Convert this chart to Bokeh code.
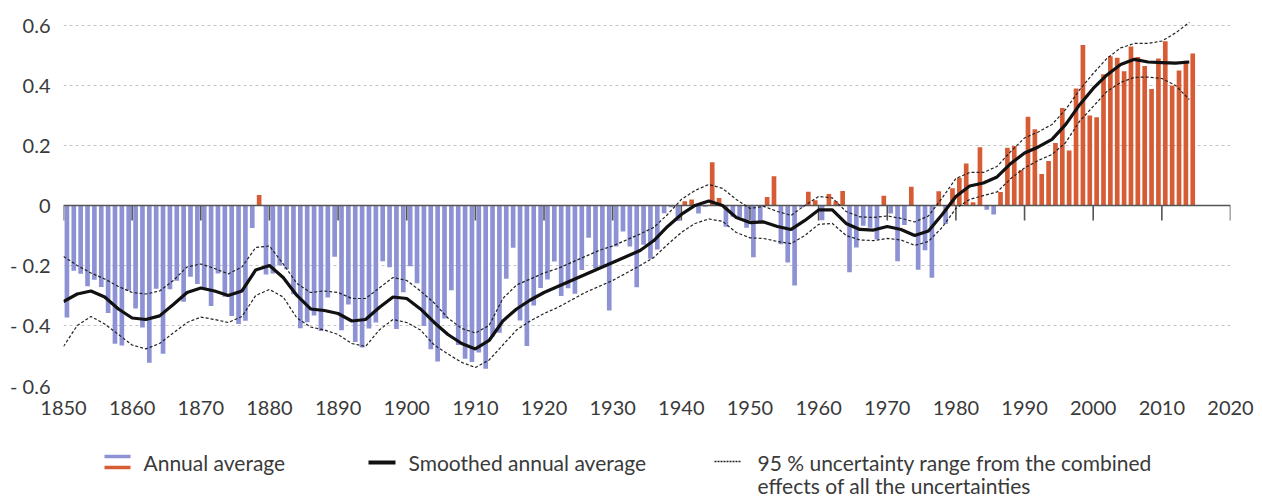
from bokeh.plotting import figure
from bokeh.models import Range1d, FixedTicker, ColumnDataSource
from bokeh.layouts import column
from bokeh.embed import file_html
from bokeh.resources import INLINE
from bokeh.core.properties import value

# Global average near-surface temperature anomaly (deg C), 1850-2014
years = list(range(1850, 2015))
anomaly = [
    -0.373, -0.218, -0.228, -0.269, -0.248, -0.272, -0.358, -0.461, -0.467, -0.284,
    -0.343, -0.407, -0.524, -0.278, -0.494, -0.279, -0.251, -0.321, -0.238, -0.262,
    -0.276, -0.335, -0.227, -0.304, -0.368, -0.395, -0.384, -0.075, 0.035, -0.230,
    -0.227, -0.200, -0.213, -0.296, -0.409, -0.389, -0.367, -0.418, -0.307, -0.171,
    -0.416, -0.330, -0.455, -0.473, -0.410, -0.390, -0.186, -0.206, -0.412, -0.289,
    -0.203, -0.259, -0.402, -0.479, -0.520, -0.377, -0.283, -0.465, -0.511, -0.522,
    -0.490, -0.544, -0.437, -0.424, -0.244, -0.141, -0.383, -0.468, -0.333, -0.275,
    -0.247, -0.187, -0.302, -0.276, -0.294, -0.215, -0.108, -0.210, -0.206, -0.350,
    -0.137, -0.087, -0.137, -0.273, -0.131, -0.178, -0.147, -0.026, -0.006, -0.052,
    0.014, 0.020, -0.027, -0.004, 0.144, 0.025, -0.071, -0.038, -0.039, -0.074,
    -0.173, -0.052, 0.028, 0.097, -0.129, -0.190, -0.267, -0.007, 0.046, 0.017,
    -0.049, 0.038, 0.014, 0.048, -0.223, -0.140, -0.068, -0.074, -0.113, 0.032,
    -0.027, -0.186, -0.065, 0.062, -0.214, -0.149, -0.241, 0.047, -0.062, 0.057,
    0.092, 0.140, 0.011, 0.194, -0.014, -0.030, 0.045, 0.192, 0.198, 0.118,
    0.296, 0.254, 0.105, 0.148, 0.208, 0.325, 0.183, 0.390, 0.535, 0.300,
    0.294, 0.437, 0.497, 0.492, 0.447, 0.530, 0.495, 0.465, 0.388, 0.490,
    0.547, 0.400, 0.450, 0.482, 0.506,
]

# Smoothed series and its 95 % uncertainty envelope, every second year
smooth_years = list(range(1850, 2015, 2))
smooth = [
    -0.320, -0.295, -0.285, -0.305, -0.345, -0.375, -0.380, -0.368, -0.330, -0.290,
    -0.275, -0.285, -0.300, -0.285, -0.215, -0.200, -0.240, -0.300, -0.345, -0.350,
    -0.360, -0.385, -0.380, -0.340, -0.305, -0.310, -0.345, -0.390, -0.430, -0.460,
    -0.478, -0.450, -0.385, -0.345, -0.315, -0.290, -0.270, -0.250, -0.230, -0.210,
    -0.190, -0.170, -0.150, -0.117, -0.070, -0.030, 0.000, 0.015, 0.000, -0.040,
    -0.057, -0.055, -0.070, -0.080, -0.050, -0.015, -0.015, -0.060, -0.080, -0.082,
    -0.070, -0.080, -0.100, -0.085, -0.030, 0.030, 0.065, 0.075, 0.095, 0.140,
    0.175, 0.195, 0.220, 0.270, 0.335, 0.390, 0.435, 0.470, 0.487, 0.478,
    0.476, 0.474, 0.478,
]
upper = [
    -0.170, -0.200, -0.225, -0.245, -0.270, -0.290, -0.295, -0.285, -0.250, -0.205,
    -0.195, -0.210, -0.228, -0.205, -0.140, -0.135, -0.195, -0.260, -0.290, -0.285,
    -0.290, -0.310, -0.310, -0.275, -0.240, -0.250, -0.285, -0.325, -0.375, -0.410,
    -0.425, -0.400, -0.310, -0.265, -0.245, -0.225, -0.210, -0.190, -0.170, -0.150,
    -0.135, -0.115, -0.095, -0.073, -0.030, 0.020, 0.050, 0.070, 0.057, 0.020,
    -0.010, -0.003, -0.020, -0.033, 0.000, 0.030, 0.025, -0.020, -0.038, -0.040,
    -0.035, -0.043, -0.055, -0.035, 0.025, 0.090, 0.110, 0.110, 0.130, 0.180,
    0.225, 0.245, 0.270, 0.320, 0.385, 0.440, 0.490, 0.525, 0.540, 0.540,
    0.548, 0.575, 0.610,
]
lower = [
    -0.470, -0.400, -0.370, -0.395, -0.430, -0.465, -0.478, -0.460, -0.425, -0.390,
    -0.372, -0.380, -0.390, -0.370, -0.300, -0.280, -0.305, -0.375, -0.405, -0.415,
    -0.430, -0.460, -0.470, -0.415, -0.380, -0.390, -0.415, -0.465, -0.495, -0.523,
    -0.540, -0.515, -0.465, -0.415, -0.385, -0.360, -0.340, -0.315, -0.290, -0.270,
    -0.250, -0.225, -0.200, -0.173, -0.130, -0.090, -0.060, -0.045, -0.053, -0.090,
    -0.108, -0.110, -0.120, -0.127, -0.100, -0.063, -0.060, -0.100, -0.115, -0.117,
    -0.110, -0.115, -0.133, -0.120, -0.073, -0.010, 0.020, 0.033, 0.045, 0.090,
    0.125, 0.150, 0.170, 0.210, 0.280, 0.330, 0.380, 0.410, 0.427, 0.428,
    0.423, 0.400, 0.353,
]

tick_years = list(range(1850, 2021, 10))
y_ticks = [-0.6, -0.4, -0.2, 0, 0.2, 0.4, 0.6]
y_tick_labels = ["- 0.6", "- 0.4", "- 0.2", "0", "0.2", "0.4", "0.6"]

legend_labels = [
    "Annual average",
    "Smoothed annual average",
    "95 % uncertainty range from the combined",
    "effects of all the uncertainties",
]

FONT = "Lato"
BLUE = "#8d92d5"
RED = "#d65c36"
TEXT = "#3a3a3a"

p = figure(
    width=1263, height=425,
    x_range=Range1d(1850, 2020), y_range=Range1d(-0.6, 0.663),
    output_backend="svg", toolbar_location=None,
    min_border_left=63, min_border_right=33, min_border_top=6, min_border_bottom=40,
)
p.outline_line_color = None
p.background_fill_color = "white"

# grid
p.xgrid.visible = False
p.ygrid.ticker = FixedTicker(ticks=y_ticks)
p.ygrid.grid_line_color = "#c4c4c4"
p.ygrid.grid_line_dash = "3 3"
p.ygrid.grid_line_width = 1

# axes
p.yaxis.ticker = FixedTicker(ticks=y_ticks)
p.yaxis.major_label_overrides = dict(zip(y_ticks, y_tick_labels))
p.xaxis.ticker = FixedTicker(ticks=tick_years)
for ax in (p.xaxis, p.yaxis):
    ax.axis_line_color = None
    ax.major_tick_line_color = None
    ax.minor_tick_line_color = None
    ax.major_label_text_font = FONT
    ax.major_label_text_font_size = "20px"
    ax.major_label_text_color = TEXT
p.yaxis.major_label_standoff = 7
p.xaxis.major_label_standoff = 9

# annual bars
bar_src = ColumnDataSource(dict(
    x=[y + 0.5 for y in years],
    top=anomaly,
    color=[RED if v >= 0 else BLUE for v in anomaly],
))
p.vbar(x="x", top="top", bottom=0, width=0.68, fill_color="color",
       line_color=None, source=bar_src)

# zero line with decade ticks hanging below it
p.segment(x0=[tick_years[0]], y0=[0], x1=[tick_years[-1]], y1=[0],
          line_color="#555555", line_width=1.6)
p.segment(x0=tick_years, y0=[0] * len(tick_years), x1=tick_years,
          y1=[-0.05] * len(tick_years), line_color="#555555", line_width=1.6)

# uncertainty envelope and smoothed curve
p.line(smooth_years, upper, line_color="#222222", line_width=1.2, line_dash="3 2")
p.line(smooth_years, lower, line_color="#222222", line_width=1.2, line_dash="3 2")
p.line(smooth_years, smooth, line_color="#111111", line_width=3.2)

# legend strip below the chart; its frame lines up with the chart frame,
# so the ranges are given in page pixels
leg = figure(
    width=1263, height=74, x_range=Range1d(63, 1230), y_range=Range1d(74, 0),
    output_backend="svg", toolbar_location=None,
    min_border_left=63, min_border_right=33, min_border_top=0, min_border_bottom=0,
)
leg.axis.visible = False
leg.grid.visible = False
leg.outline_line_color = None

leg.segment(x0=[104], y0=[31], x1=[130], y1=[31], line_color=BLUE, line_width=3.5)
leg.segment(x0=[104], y0=[42], x1=[130], y1=[42], line_color=RED, line_width=3.5)
leg.segment(x0=[368], y0=[37], x1=[395], y1=[37], line_color="#111111", line_width=4)
leg.segment(x0=[714], y0=[36], x1=[740], y1=[36], line_color="#222222",
            line_width=1.5, line_dash="2 1")

leg.text(x=[143, 408, 757, 757], y=[37, 37, 37, 60], text=legend_labels,
         text_font=value(FONT), text_font_size="21px", text_color=TEXT,
         text_baseline="middle", text_align="left")

layout = column(p, leg, spacing=0)
open("out.html", "w").write(file_html(layout, INLINE))
